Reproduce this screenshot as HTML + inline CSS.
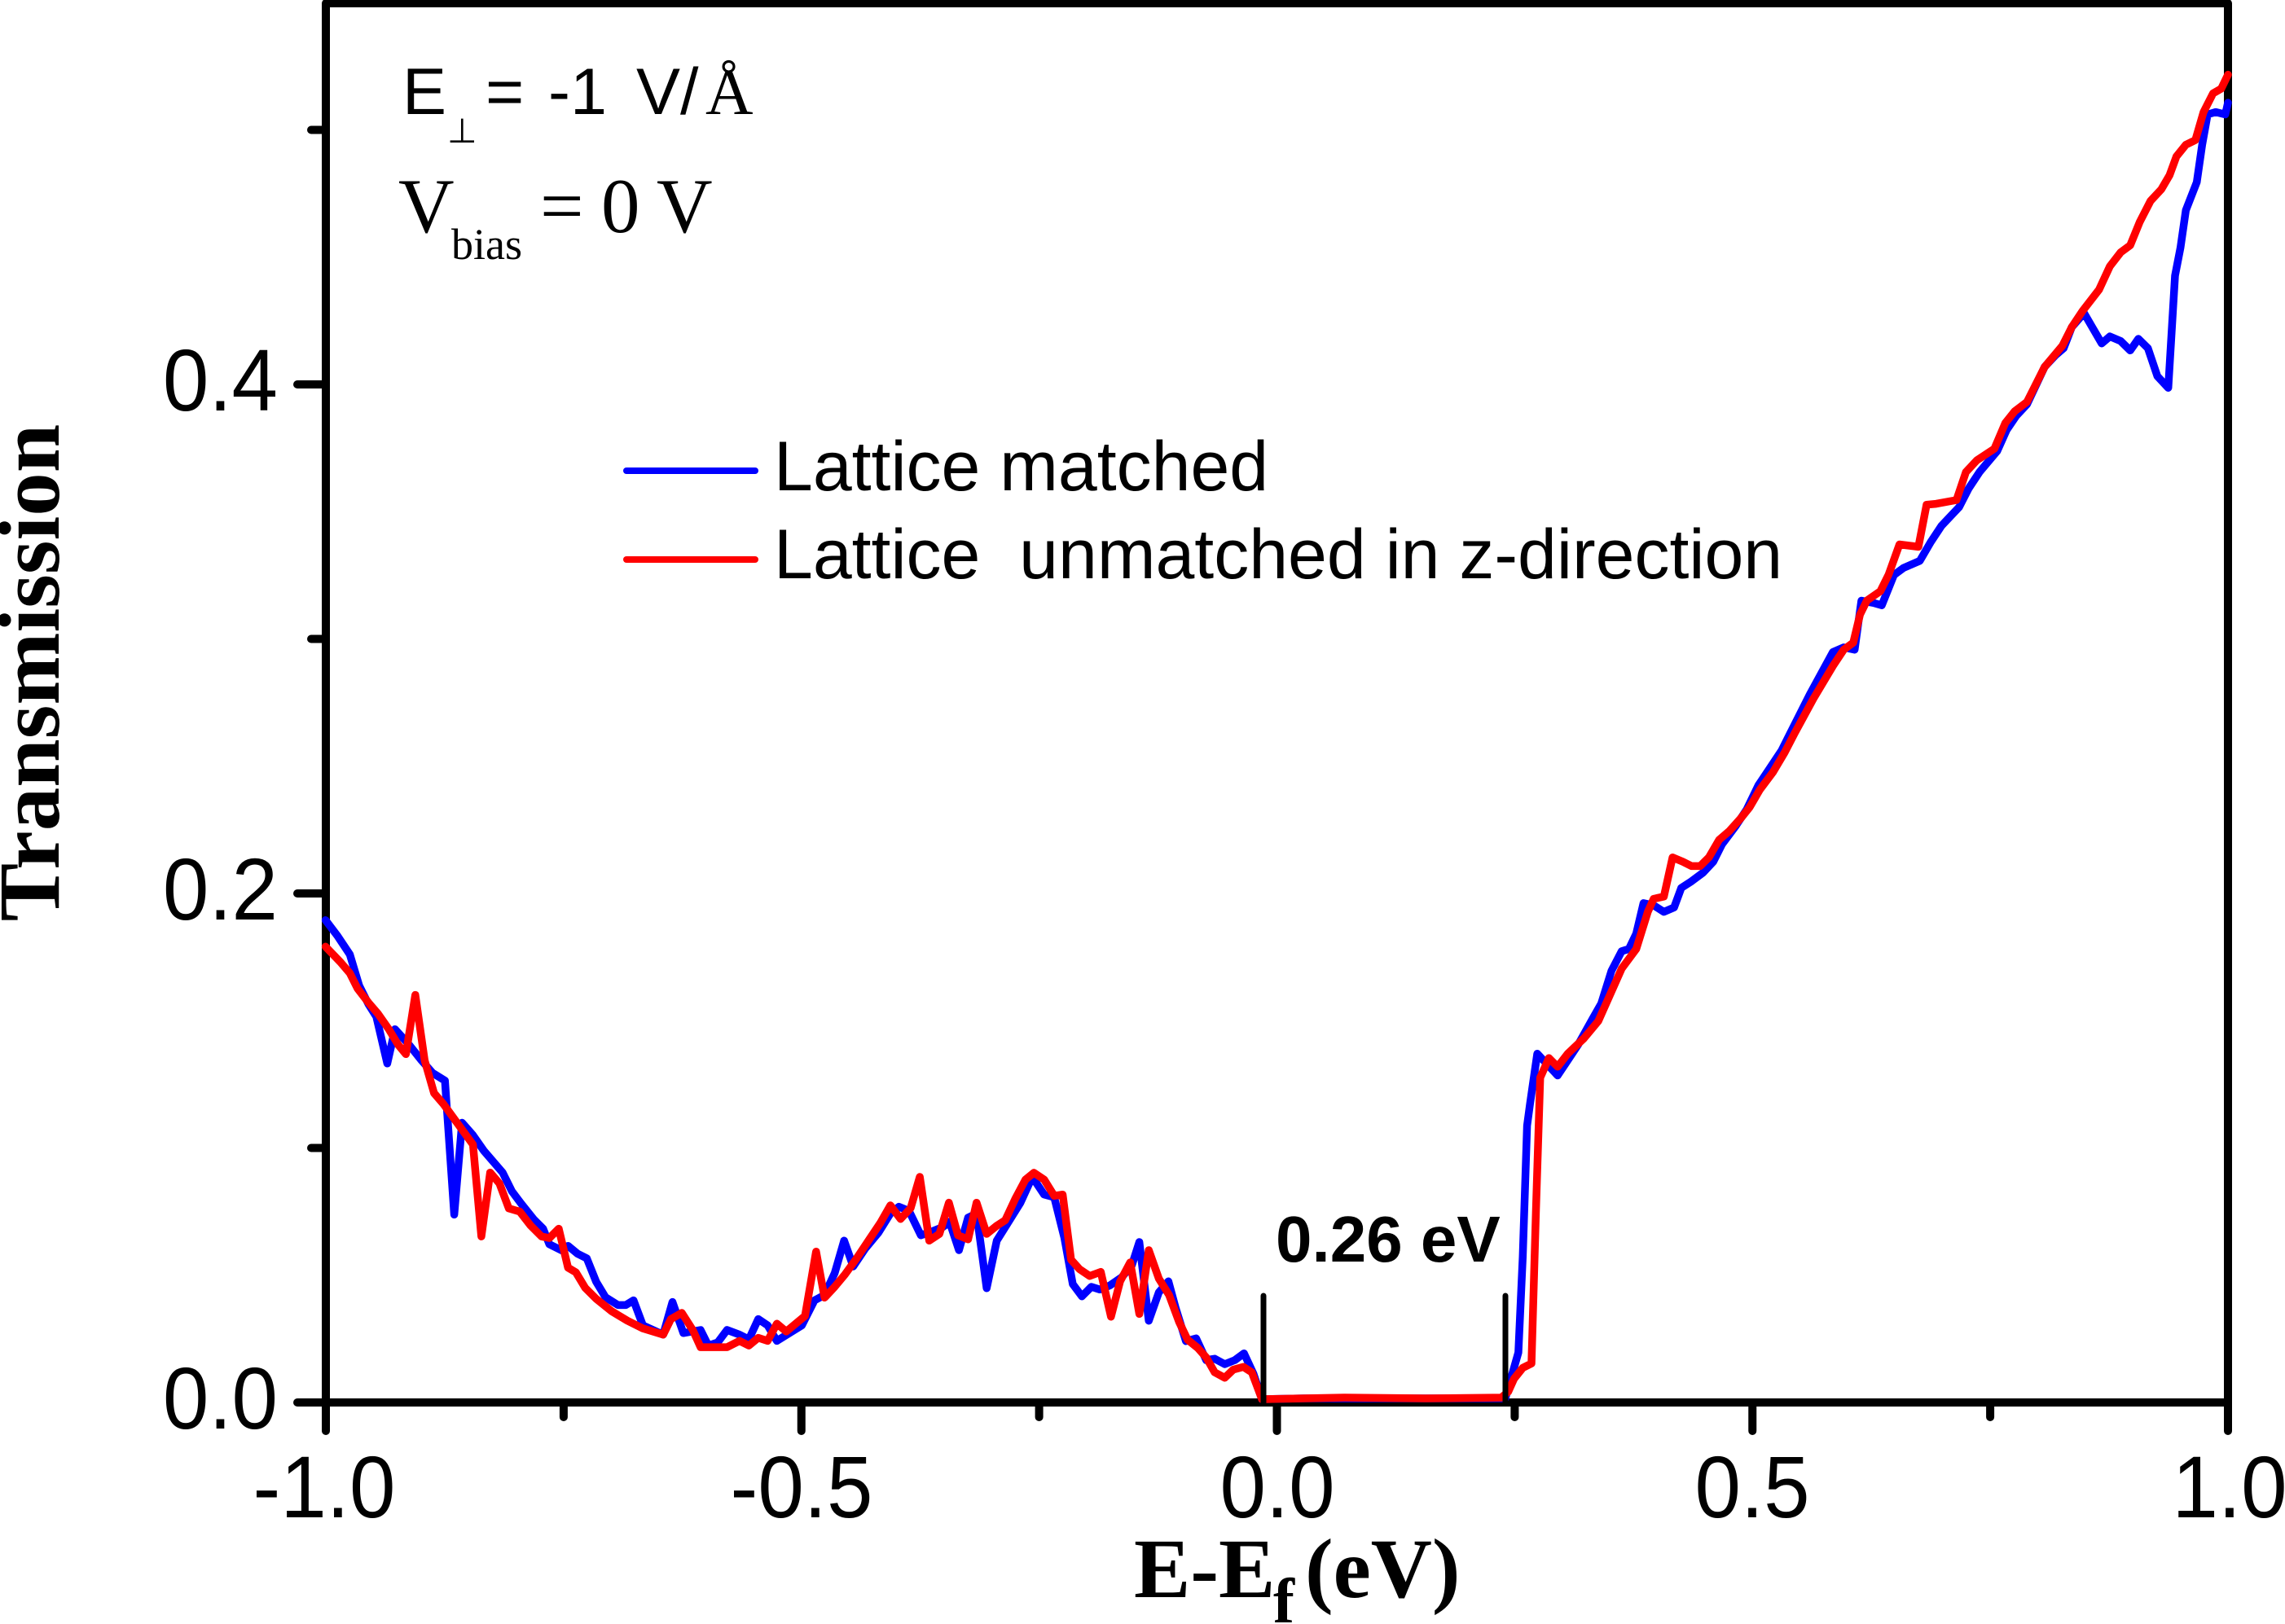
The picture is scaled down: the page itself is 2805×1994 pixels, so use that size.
<!DOCTYPE html>
<html>
<head>
<meta charset="utf-8">
<style>
html,body{margin:0;padding:0;background:#fff;}
svg{display:block;}
.tick{font-family:"Liberation Sans",Arial,sans-serif;font-size:108px;fill:#000;}
.leg{font-family:"Liberation Sans",Arial,sans-serif;font-size:86px;fill:#000;white-space:pre;}
</style>
</head>
<body>
<svg width="2805" height="1994" viewBox="0 0 2805 1994" xmlns="http://www.w3.org/2000/svg">
<rect x="0" y="0" width="2805" height="1994" fill="#fff"/>

<!-- frame -->
<path d="M400,4 L2735,4 L2735,1722 L400,1722 Z" fill="none" stroke="#000" stroke-width="10" stroke-linejoin="round"/>

<!-- x ticks -->
<g stroke="#000" stroke-width="10" stroke-linecap="round">
<line x1="400" y1="1722" x2="400" y2="1757"/>
<line x1="983.75" y1="1722" x2="983.75" y2="1757"/>
<line x1="1567.5" y1="1722" x2="1567.5" y2="1757"/>
<line x1="2151.25" y1="1722" x2="2151.25" y2="1757"/>
<line x1="2735" y1="1722" x2="2735" y2="1757"/>
<line x1="691.9" y1="1722" x2="691.9" y2="1740"/>
<line x1="1275.6" y1="1722" x2="1275.6" y2="1740"/>
<line x1="1859.4" y1="1722" x2="1859.4" y2="1740"/>
<line x1="2443.1" y1="1722" x2="2443.1" y2="1740"/>
<!-- y ticks -->
<line x1="400" y1="1722" x2="365" y2="1722"/>
<line x1="400" y1="1097" x2="365" y2="1097"/>
<line x1="400" y1="472" x2="365" y2="472"/>
<line x1="400" y1="1409.5" x2="382" y2="1409.5"/>
<line x1="400" y1="784.5" x2="382" y2="784.5"/>
<line x1="400" y1="159.5" x2="382" y2="159.5"/>
</g>

<!-- x tick labels -->
<g class="tick" text-anchor="middle">
<text transform="translate(398,1863) scale(0.94,1)">-1.0</text>
<text transform="translate(984,1863) scale(0.94,1)">-0.5</text>
<text transform="translate(1568,1863) scale(0.94,1)">0.0</text>
<text transform="translate(2151,1863) scale(0.94,1)">0.5</text>
<text transform="translate(2737,1863) scale(0.94,1)">1.0</text>
</g>
<!-- y tick labels -->
<g class="tick" text-anchor="end">
<text transform="translate(341,1754) scale(0.94,1)">0.0</text>
<text transform="translate(341,1129) scale(0.94,1)">0.2</text>
<text transform="translate(341,504) scale(0.94,1)">0.4</text>
</g>

<!-- axis titles -->
<text transform="translate(72,826) rotate(-90)" text-anchor="middle" font-family="'Liberation Serif','Times New Roman',serif" font-weight="bold" font-size="107">Transmission</text>
<text font-family="'Liberation Serif','Times New Roman',serif" font-weight="bold" fill="#000">
<tspan x="1392" y="1961" font-size="104">E-E</tspan><tspan x="1563" y="1992" font-size="78">f</tspan><tspan x="1602" y="1961" font-size="104">(eV)</tspan>
</text>

<!-- data: blue -->
<polyline fill="none" stroke="#0000ff" stroke-width="9.5" stroke-linejoin="round" stroke-linecap="round" points="399.6,1129.8 414.1,1148.9 429.4,1171.8 440.9,1210.1 452.4,1233.1 462,1248.4 475.4,1305.8 484.9,1263.7 502.2,1282.8 517.5,1302 530.9,1317.3 546.2,1326.8 557.6,1491.4 567.2,1378.5 580.6,1393.8 594,1413 617,1439.7 628.4,1462.7 639.9,1478 655.2,1497.1 666.7,1508.6 674.4,1527.8 689.7,1535.4 697.3,1529.7 708.8,1539.2 720.3,1545 731.8,1573.7 743.3,1592.8 758.6,1602.4 768.1,1602.4 777.7,1596.6 789.2,1627.3 814.1,1638.7 825.5,1598.6 838.9,1636.8 860,1633 869.5,1652.1 881,1648.3 892.5,1633 907.8,1638.7 919.3,1644.5 930.8,1619.6 942.3,1627.3 953.7,1646.4 969,1636.8 984.4,1627.3 999.8,1596.7 1012.2,1590 1024.6,1563.3 1036.2,1523.3 1047.4,1555 1061.9,1533.3 1078.5,1513.3 1093,1490 1103.4,1481.7 1115.8,1486.7 1130.4,1516.7 1144.9,1511.7 1157.3,1506.7 1165.6,1500 1177.2,1535 1188.4,1495 1198.8,1490 1211.2,1581.7 1223.6,1523.3 1236.1,1503.3 1252.7,1476.7 1267.2,1445 1281.7,1466.7 1294.1,1470 1306.6,1520 1316.9,1576.7 1328.1,1591.7 1339.7,1580 1350.1,1583.3 1362.5,1578.3 1377,1568.3 1389.5,1553.3 1398.6,1525 1410.2,1621.7 1422.6,1586.7 1434.3,1573.3 1443.4,1606.7 1455.8,1646.7 1468.3,1643.3 1480.7,1670 1491.1,1668.3 1503.5,1675 1515.9,1670 1527.1,1661.7 1538.7,1686.7 1549.1,1718 1600,1717 1700,1717 1847.9,1716.9 1863.9,1660.7 1869.3,1542.8 1874.6,1382.1 1878.2,1355.4 1887.1,1293.7 1899.6,1307.1 1912.1,1320.5 1922.8,1304.5 1937.1,1283 1955,1250.9 1965.7,1232.1 1978.2,1192 1990.7,1167.9 1999.6,1165.2 2008.6,1146.4 2017.5,1108.9 2030,1111.6 2042.5,1119.6 2055,1114.3 2063.9,1090.2 2076.4,1082.1 2090.7,1071.4 2103.2,1058 2113.9,1036.6 2130,1015.2 2144.3,993.7 2158.5,964.3 2172.8,942.9 2187.1,921.4 2197.8,900 2222,852 2250,800.6 2263.3,794.9 2276.7,797.7 2285,737.5 2300,740.3 2310,743.2 2325,705.9 2336.7,697.3 2356.7,688.6 2370,665.7 2383.3,645.6 2405,622.6 2416.7,599.7 2430,579.6 2451.7,553.8 2463.3,527.9 2475,510.7 2488.3,496.4 2510,450.4 2523.3,436.1 2533.3,427.5 2543.3,401.6 2558.3,384.4 2568.3,401.6 2580,421.7 2590,413.1 2603.3,418.8 2615,430.3 2625,416 2636.7,427.5 2648.3,461.9 2661.7,476.2 2670,338.5 2676.7,304 2683.3,258.1 2696.7,223.7 2703.3,177.8 2710,140.5 2720,137.6 2731.7,140.5 2735,126.1"/>

<!-- data: red -->
<polyline fill="none" stroke="#ff0000" stroke-width="9.5" stroke-linejoin="round" stroke-linecap="round" points="399.6,1162.3 418,1181.4 429.4,1194.8 439,1213.9 452.4,1231.2 463.9,1244.6 477.3,1263.7 488.8,1282.8 498.3,1294.3 509.8,1221.6 521.3,1302 532.8,1342.1 544.3,1355.5 559.6,1376.6 580.6,1405.3 590.9,1518.2 601.7,1439.7 613.1,1453.1 624.6,1483.7 638,1487.6 651.4,1504.8 664.8,1518.2 674.4,1520.1 685.9,1508.6 697.3,1556.5 706.9,1562.2 718.4,1581.3 731.8,1594.7 750.9,1610 770,1621.5 789.2,1631.1 814.1,1638.7 823.6,1619.6 837,1612 850.4,1633 860,1654.1 873.4,1654.1 892.5,1654.1 907.8,1646.4 919.3,1652.1 930.8,1642.6 942.3,1646.4 953.7,1625.3 965.2,1634.9 988.2,1615.8 1001.8,1536.7 1012.2,1593.3 1024.6,1580 1037.1,1565 1051.6,1545 1066.1,1523.3 1080.6,1501.7 1093,1480 1105.5,1496.7 1117.9,1483.3 1129.1,1445 1140.7,1523.3 1153.2,1515 1164.8,1476.7 1176,1516.7 1188.4,1521.7 1198.8,1476.7 1211.2,1515 1223.6,1505 1234,1498.3 1246.4,1471.7 1258.9,1448.3 1269.2,1440 1281.7,1448.3 1294.1,1468.3 1304.5,1466.7 1314.8,1546.7 1325.2,1558.3 1337.6,1566.7 1351.3,1561.7 1363.8,1616.7 1375,1573.3 1387.4,1550 1398.6,1613.3 1410.2,1535 1422.6,1570 1435.1,1590 1447.5,1623.3 1457.9,1645 1470.3,1655 1480.7,1666.7 1491.1,1685 1503.5,1691.7 1513.9,1681.7 1526.3,1678.3 1536.7,1685 1549.1,1718 1650,1716 1750,1717 1843,1716 1851.4,1708.9 1858.6,1692.9 1869.3,1679.5 1880,1674.1 1885.4,1489.3 1890.7,1323.2 1901.4,1299.1 1912.1,1309.8 1924.6,1293.7 1944.3,1275 1962.1,1253.6 1976.4,1221.4 1990.7,1189.3 2008.6,1165.2 2022.8,1119.6 2030,1103.6 2042.5,1100.9 2053.2,1052.7 2065.7,1058 2076.4,1063.4 2087.1,1063.4 2097.8,1052.7 2110.3,1031.2 2122.8,1020.5 2137.1,1004.5 2147.8,991.1 2160.3,969.6 2176.4,948.2 2190.7,924.1 2203.2,900 2226,858 2250,817.8 2263.3,797.7 2275,789.1 2283.3,754.6 2291.7,737.4 2308.3,725.9 2318.3,705.8 2331.7,668.5 2355,671.4 2365,619.7 2376.7,618.6 2401.7,614 2413.3,579.6 2426.7,565.2 2448.3,550.9 2461.7,519.3 2473.3,504.9 2488.3,493.5 2510,450.4 2531.7,424.6 2543.3,401.6 2556.7,381.5 2576.7,355.7 2590,327 2603.3,309.8 2615,301.2 2626.7,272.5 2640,246.6 2653.3,232.3 2663.3,215.1 2671.7,192.1 2683.3,177.8 2695,172 2705,137.6 2716.7,114.6 2726.7,108.9 2735,91.7"/>

<!-- gap markers -->
<g stroke="#000" stroke-width="7" stroke-linecap="round">
<line x1="1551" y1="1591" x2="1551" y2="1722"/>
<line x1="1848" y1="1591" x2="1848" y2="1722"/>
</g>
<text x="1566" y="1549" font-family="'Liberation Sans',Arial,sans-serif" font-weight="bold" font-size="80" fill="#000">0.26 eV</text>

<!-- legend -->
<line x1="769" y1="578" x2="927" y2="578" stroke="#0000ff" stroke-width="8" stroke-linecap="round"/>
<line x1="769" y1="687" x2="927" y2="687" stroke="#ff0000" stroke-width="8" stroke-linecap="round"/>
<text class="leg" x="950" y="602">Lattice matched</text>
<text class="leg" x="950" y="710" xml:space="preserve">Lattice  unmatched in z-direction</text>

<!-- annotations -->
<text fill="#000">
<tspan x="494" y="140" font-family="'Liberation Sans',Arial,sans-serif" font-size="81">E</tspan><tspan x="549" y="175" font-family="'DejaVu Sans',sans-serif" font-size="42">⊥</tspan><tspan x="596" y="140" font-family="'Liberation Sans',Arial,sans-serif" font-size="81">=</tspan><tspan x="673" y="140" font-family="'Liberation Sans',Arial,sans-serif" font-size="81">-1</tspan><tspan x="781" y="140" font-family="'Liberation Sans',Arial,sans-serif" font-size="81">V/</tspan><tspan x="866" y="140" font-family="'Liberation Serif','Times New Roman',serif" font-size="81">Å</tspan>
</text>
<text fill="#000" font-family="'Liberation Serif','Times New Roman',serif">
<tspan x="489" y="285" font-size="95">V</tspan><tspan x="554" y="318" font-size="54">bias</tspan><tspan x="663" y="285" font-size="95">=</tspan><tspan x="738" y="285" font-size="95">0</tspan><tspan x="806" y="285" font-size="95">V</tspan>
</text>
</svg>
</body>
</html>
